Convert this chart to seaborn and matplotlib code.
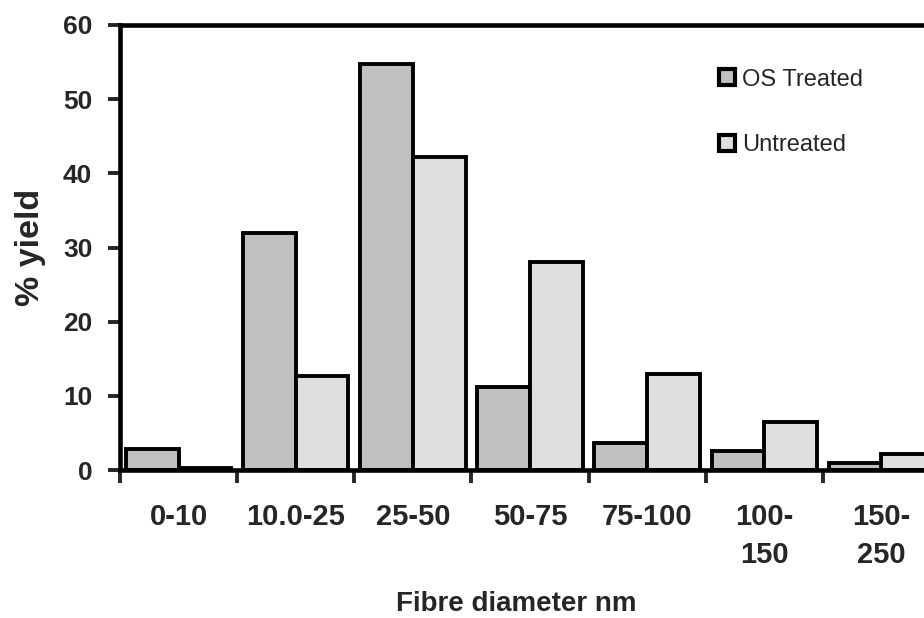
import pandas as pd
import seaborn as sns
import matplotlib.pyplot as plt
import matplotlib.patches as mpatches

categories = ['0-10', '10.0-25', '25-50', '50-75', '75-100', '100-\n150', '150-\n250']
os_treated = [2.8, 32.0, 54.7, 11.2, 3.7, 2.6, 1.0]
untreated = [0.3, 12.7, 42.2, 28.1, 12.9, 6.5, 2.2]

df = pd.DataFrame({
    'cat': categories * 2,
    'val': os_treated + untreated,
    'series': ['OS Treated'] * 7 + ['Untreated'] * 7,
})

sns.set_style('white')
plt.rcParams['font.family'] = ['Liberation Sans', 'DejaVu Sans']

fig = plt.figure(figsize=(9.24, 6.18), dpi=100)
ax = fig.add_axes([120 / 924, 148 / 618, 820 / 924, 445 / 618])

colors = {'OS Treated': '#c0c0c0', 'Untreated': '#dfdfdf'}
sns.barplot(data=df, x='cat', y='val', hue='series', palette=colors,
            width=0.9, edgecolor='black', linewidth=2.8, ax=ax, legend=False)

ax.set_xlim(-0.5, 6.5)
ax.set_ylim(0, 60)
ax.set_yticks([0, 10, 20, 30, 40, 50, 60])
ax.tick_params(axis='y', direction='out', length=9, width=2.8, left=True,
               labelsize=19, pad=11)
for t in ax.get_yticklabels():
    t.set_fontweight('bold')

# tick marks at category boundaries, labels at centres
ax.set_xticks([i + 0.5 for i in range(-1, 7)], minor=True)
ax.tick_params(axis='x', which='minor', direction='out', length=9, width=2.8, bottom=True)
ax.tick_params(axis='x', which='major', length=0, labelsize=21, pad=24)
ax.set_xticks(range(7))
ax.set_xticklabels(categories, fontweight='bold', linespacing=1.45, va='top')

for s in ['left', 'bottom', 'top']:
    ax.spines[s].set_linewidth(3.3)
    ax.spines[s].set_color('black')
ax.spines['right'].set_visible(False)

ax.set_xlabel('Fibre diameter nm', fontsize=20, fontweight='bold')
ax.xaxis.set_label_coords(0.483, -0.272)
ax.set_ylabel('% yield', fontsize=24.5, fontweight='bold', labelpad=12)

h1 = mpatches.Patch(facecolor='#c0c0c0', edgecolor='black', linewidth=3, label='OS Treated')
h2 = mpatches.Patch(facecolor='#dfdfdf', edgecolor='black', linewidth=3, label='Untreated')
ax.legend(handles=[h1, h2], loc='upper left', bbox_to_anchor=(0.705, 0.95),
          frameon=False, fontsize=17, handlelength=0.65, handleheight=0.65,
          handletextpad=0.3, labelspacing=1.85)

fig.savefig('out.png', dpi=100)
